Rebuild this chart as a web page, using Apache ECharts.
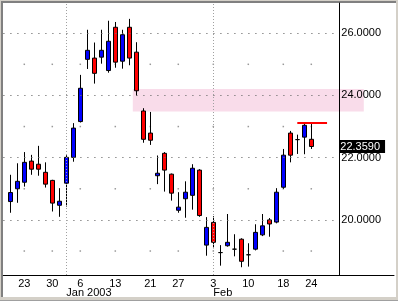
<!DOCTYPE html>
<html><head><meta charset="utf-8">
<script src="https://cdn.jsdelivr.net/npm/echarts@6/dist/echarts.min.js"></script>
<style>
html,body{margin:0;padding:0;background:#d4d0c8;}
#wrap{position:relative;width:398px;height:301px;background:#d4d0c8;box-sizing:border-box;border-bottom:1px solid #a0a0a0;overflow:hidden;}
#panel{position:absolute;left:1px;top:1px;width:395px;height:296px;box-sizing:border-box;background:#fff;border-top:2px solid #808080;border-left:2px solid #808080;}
#chart{position:absolute;left:0;top:0;width:398px;height:301px;}
</style></head><body>
<div id="wrap"><div id="panel"></div><div id="chart"></div></div>
<script>
// ---- data ----
const dates = ['2002-12-19','2002-12-20','2002-12-23','2002-12-24','2002-12-26','2002-12-27','2002-12-30','2002-12-31',
  '2003-01-02','2003-01-03','2003-01-06','2003-01-07','2003-01-08','2003-01-09','2003-01-10','2003-01-13','2003-01-14',
  '2003-01-15','2003-01-16','2003-01-17','2003-01-21','2003-01-22','2003-01-23','2003-01-24','2003-01-27','2003-01-28',
  '2003-01-29','2003-01-30','2003-01-31','2003-02-03','2003-02-04','2003-02-05','2003-02-06','2003-02-07','2003-02-10',
  '2003-02-11','2003-02-12','2003-02-13','2003-02-14','2003-02-18','2003-02-19','2003-02-20','2003-02-21','2003-02-24'];
const openV  = [20.59,21.00,21.21,21.89,21.79,21.53,21.27,20.47,21.18,22.01,23.16,25.16,25.20,25.23,24.80,26.19,25.10,26.19,25.39,23.50,22.79,21.42,22.14,21.47,20.31,20.68,20.79,21.60,19.19,19.92,18.95,19.17,19.06,19.38,18.88,19.06,19.52,20.00,19.93,21.05,22.79,22.58,22.66,22.59];
const closeV = [20.88,21.24,21.85,21.63,21.63,21.15,20.54,20.60,22.01,22.95,24.23,25.45,24.71,25.45,25.74,25.07,25.95,25.20,24.15,22.59,22.56,21.50,21.60,20.86,20.41,20.89,21.66,20.14,19.76,19.28,18.95,19.28,19.06,18.67,18.88,19.60,19.81,19.87,20.89,22.08,22.08,22.58,23.04,22.359];
const lowV   = [20.23,20.55,21.07,21.45,21.42,21.04,20.27,20.10,20.43,21.87,23.13,24.85,24.38,25.02,24.73,24.89,24.86,24.97,23.99,22.48,22.41,21.15,20.91,20.62,20.23,20.07,20.33,20.10,18.85,19.09,18.53,19.14,18.83,18.48,18.50,19.02,19.48,19.46,19.89,21.00,21.85,22.12,22.11,22.28];
const highV  = [21.45,21.82,22.18,22.09,22.38,21.85,21.29,21.02,22.08,23.11,24.66,26.11,25.70,26.11,26.40,26.36,26.11,26.46,25.71,23.59,23.47,22.07,22.18,21.49,20.89,21.24,21.79,21.63,20.09,20.12,19.19,20.19,19.54,19.41,19.25,19.86,20.19,20.06,21.02,22.28,22.86,22.74,23.12,23.13];
const weekTickIdx = [2,6,10,15,20,24,29,34,39,43];
const weekTickLabels = ['23','30','6','13','21','27','3','10','18','24'];
const monthIdx = [8,29];
const monthLabels = ['Jan 2003','Feb'];
const majorLevels = [20,22,24,26];
const minorLevels = [19,21,23,25];
const zoneRange = [23.48,24.21];
const zoneSpan = [17.5,50.5];
const resistanceLevel = 23.13;
const resistanceSpan = [41,45.25];
const lastPrice = closeV[closeV.length-1];

// ---- layout ----
const X_MIN = -1, X_MAX = 54.814, Y_MIN = 18.23, Y_MAX = 26.97, AXIS_AT = 47;
const FONT = 'Liberation Sans';
const gridRect = {left:3.3, top:3, width:390.7, height:272};

const candles = dates.map((d,i)=>[i, openV[i], closeV[i], lowV[i], highV[i]]);
const minorDots = [];
weekTickIdx.forEach(i=>minorLevels.forEach(v=>minorDots.push([i,v])));

const gridLines = majorLevels.map(v=>[{coord:[X_MIN,v]},{coord:[AXIS_AT,v]}]);
monthIdx.forEach(i=>gridLines.push([{coord:[i,Y_MIN],lineStyle:{type:[1,2],color:'#a0a0a0',width:1}},{coord:[i,Y_MAX]}]));

const chart = echarts.init(document.getElementById('chart'), null, {renderer:'canvas'});
chart.setOption({
  animation:false,
  grid:[Object.assign({},gridRect),Object.assign({},gridRect)],
  xAxis:[{
    type:'value', gridIndex:0, min:X_MIN, max:X_MAX, position:'bottom',
    axisLine:{show:true,onZero:false,lineStyle:{color:'#000',width:1}},
    axisTick:{show:false}, splitLine:{show:false},
    axisLabel:{customValues:weekTickIdx, margin:3, fontFamily:FONT, fontSize:11, color:'#000',
      formatter:v=>{const k=weekTickIdx.indexOf(Math.round(v));return k>=0?weekTickLabels[k]:'';}}
  },{
    type:'value', gridIndex:1, min:X_MIN, max:X_MAX, position:'bottom',
    axisLine:{show:false,onZero:false}, axisTick:{show:false}, splitLine:{show:false},
    axisLabel:{customValues:monthIdx, margin:12, align:'left', fontFamily:FONT, fontSize:11, color:'#000',
      formatter:v=>{const k=monthIdx.indexOf(Math.round(v));return k>=0?monthLabels[k]:'';}}
  }],
  yAxis:[{
    type:'value', gridIndex:0, min:Y_MIN, max:Y_MAX, position:'right', offset:-54.7, z:5,
    axisLine:{show:true,onZero:false,lineStyle:{color:'#000',width:1}},
    axisTick:{show:false}, splitLine:{show:false},
    axisLabel:{customValues:majorLevels, margin:2, fontFamily:FONT, fontSize:11, color:'#000',
      formatter:v=>v.toFixed(4)}
  },{
    type:'value', gridIndex:1, min:Y_MIN, max:Y_MAX, position:'right', offset:-54.7, z:6,
    axisLine:{show:false,onZero:false}, axisTick:{show:false}, splitLine:{show:false},
    axisLabel:{customValues:[lastPrice], margin:0, fontFamily:FONT, fontSize:11, color:'#fff',
      backgroundColor:'#000', padding:[1,5,1,1], lineHeight:11,
      formatter:v=>v.toFixed(4)}
  }],
  series:[{
    type:'line', xAxisIndex:0, yAxisIndex:0, data:[], z:1, silent:true,
    markArea:{silent:true, itemStyle:{color:'#f9dcea'}, label:{show:false},
      data:[[{coord:[zoneSpan[0],zoneRange[1]]},{coord:[zoneSpan[1],zoneRange[0]]}]]}
  },{
    type:'line', xAxisIndex:0, yAxisIndex:0, data:[], z:2, silent:true,
    markLine:{silent:true, symbol:['none','none'], label:{show:false},
      lineStyle:{color:'#707070', width:1, type:[1.2,5.8]}, data:gridLines}
  },{
    type:'scatter', xAxisIndex:0, yAxisIndex:0, data:minorDots, z:2, silent:true,
    symbol:'rect', symbolSize:1.5, itemStyle:{color:'#808080'}
  },{
    type:'candlestick', xAxisIndex:0, yAxisIndex:0, data:candles, z:3, barWidth:4,
    itemStyle:{color:'#0000ff', color0:'#ff0000', borderColor:'#000', borderColor0:'#000', borderColorDoji:'#000', borderWidth:1},
    markLine:{silent:true, symbol:['none','none'], label:{show:false},
      lineStyle:{color:'#ff0000', width:2, type:'solid'},
      data:[[{coord:[resistanceSpan[0],resistanceLevel]},{coord:[resistanceSpan[1],resistanceLevel]}]]}
  }]
});
</script>
</body></html>
